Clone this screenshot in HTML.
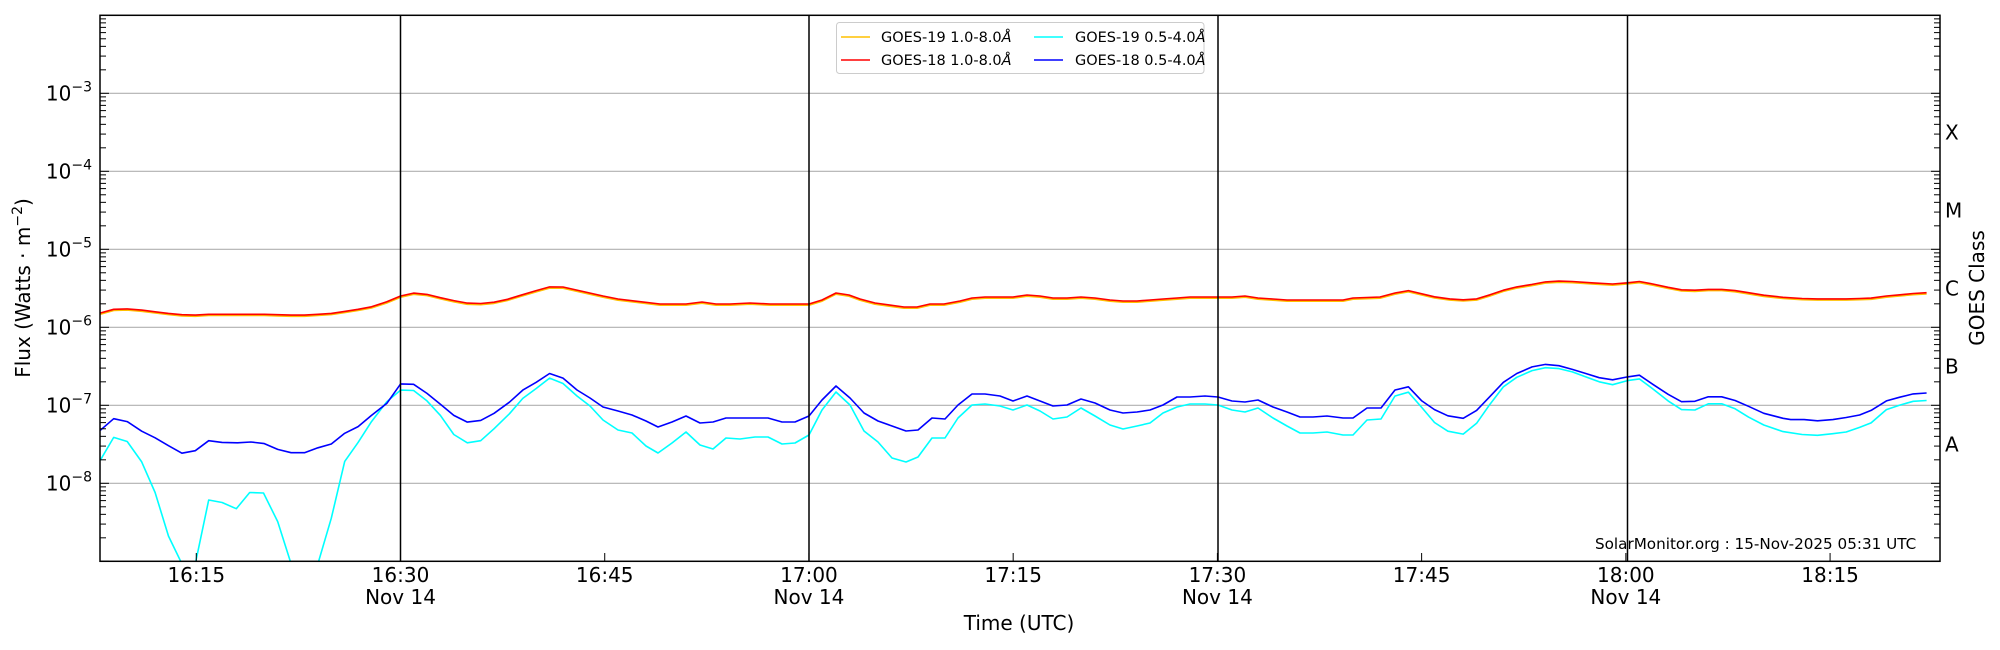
<!DOCTYPE html>
<html><head><meta charset="utf-8"><style>
html,body{margin:0;padding:0;background:#fff;}
svg{display:block;font-family:"DejaVu Sans","Liberation Sans",sans-serif;}
</style></head><body>
<svg id="s" width="2000" height="650" viewBox="0 0 2000 650" xmlns="http://www.w3.org/2000/svg">
<defs><clipPath id="c"><rect x="100" y="15" width="1840" height="546"/></clipPath></defs>
<g id="grid"></g>
<g id="data" clip-path="url(#c)" fill="none" stroke-width="1.6" stroke-linejoin="round"></g>
<g id="vl"></g>
<rect x="100" y="15.3" width="1840" height="546" fill="none" stroke="#000" stroke-width="1.5"/>
<g id="ticks" stroke="#000" stroke-width="1"></g>
<g id="lab" font-size="20" fill="#000"></g>
<text x="1019" y="630" font-size="20" text-anchor="middle">Time (UTC)</text>
<text transform="translate(30,288) rotate(-90)" font-size="20" text-anchor="middle">Flux (Watts · m<tspan baseline-shift="super" font-size="14">−2</tspan>)</text>
<text transform="translate(1984,288) rotate(-90)" font-size="20" text-anchor="middle">GOES Class</text>
<text x="1595" y="549" font-size="15.2">SolarMonitor.org : 15-Nov-2025 05:31 UTC</text>
<g>
<rect x="836.5" y="22.5" width="367.5" height="51" rx="3" fill="#fff" fill-opacity="0.8" stroke="#ccc"/>
<line x1="841" y1="37" x2="870" y2="37" stroke="#ffc000" stroke-width="1.5"/>
<line x1="841" y1="60" x2="870" y2="60" stroke="#ff0000" stroke-width="1.5"/>
<line x1="1034" y1="37" x2="1063" y2="37" stroke="#00ffff" stroke-width="1.5"/>
<line x1="1034" y1="60" x2="1063" y2="60" stroke="#0000ff" stroke-width="1.5"/>
<text x="881" y="42" font-size="14.5">GOES-19 1.0-8.0<tspan font-style="italic">Å</tspan></text>
<text x="881" y="65" font-size="14.5">GOES-18 1.0-8.0<tspan font-style="italic">Å</tspan></text>
<text x="1075" y="42" font-size="14.5">GOES-19 0.5-4.0<tspan font-style="italic">Å</tspan></text>
<text x="1075" y="65" font-size="14.5">GOES-18 0.5-4.0<tspan font-style="italic">Å</tspan></text>
</g>
</svg>
<script>
var NS="http://www.w3.org/2000/svg";
function el(p,t,a,txt){var e=document.createElementNS(NS,t);for(var k in a)e.setAttribute(k,a[k]);if(txt!==undefined)e.textContent=txt;document.getElementById(p).appendChild(e);return e;}
var top0=15.3,dec=78;
function yv(v){return top0+(-2-v)*dec;}
for(var d=-3;d>=-8;d--){var y=yv(d);el("grid","line",{x1:100,x2:1940,y1:y,y2:y,stroke:"#b0b0b0","stroke-width":1.2});}
[400.5,809,1218,1627.5].forEach(function(x){el("vl","line",{x1:x,x2:x,y1:15,y2:561,stroke:"#000","stroke-width":1.5});});
for(var d=-9;d<-2;d++){for(var m=1;m<10;m++){var y=yv(d+Math.log10(m));if(y<15.5)continue;var L=m==1?9:6;
el("ticks","line",{x1:100,x2:100+L,y1:y,y2:y});el("ticks","line",{x1:1940,x2:1940-L,y1:y,y2:y});}}
for(var d=-3;d>=-8;d--){var t=el("lab","text",{x:92,y:yv(d)+7,"text-anchor":"end"});t.innerHTML='10<tspan dy="-9" font-size="14">−'+(-d)+'</tspan>';}
["X","M","C","B","A"].forEach(function(c,i){el("lab","text",{x:1945,y:yv(-3.5-i)+7},c);});
var x0=400.5,pm=13.615;
[-15,0,15,30,45,60,75,90,105].forEach(function(m){var x=x0+m*pm;el("ticks","line",{x1:x,x2:x,y1:561,y2:553});
var h=16*60+30+m,s=Math.floor(h/60)+":"+("0"+h%60).slice(-2);el("lab","text",{x:x,y:582,"text-anchor":"middle"},s);
if(m%30==0)el("lab","text",{x:x,y:604,"text-anchor":"middle"},"Nov 14");});
function conv(a,ox,oy,sx,sy){var r=[];for(var i=0;i<a.length;i+=2)r.push([ox+a[i]/sx,oy+a[i+1]/sy]);return r;}
function z1(a){return conv(a,0,0,2.611,2.412);} function z2(a){return conv(a,1400,0,2.611,2.412);}
function z3(a){return conv(a,0,0,1,1);}
var red=[].concat(
z1([262,755,297,746,332,745,370,748,405,752,440,756,475,759,510,760,545,758,580,758,620,758,655,758,690,758,725,759,760,760,795,760,830,758,865,756,900,751,935,746,970,740,1010,728,1046,714,1080,707,1115,710,1150,718,1185,725,1220,731,1255,732,1290,729,1325,722,1360,712,1400,701,1435,692]),
z3([563,287,603,296,618,299,660,304,686,304,702,302,716,304,730,304,750,303,770,304,795,304,809,304,822,300,836,293,849,295,860,299,875,303,904,307,917,307,930,304,944,304,960,301,972,298,985,297,1000,297,1013,297,1027,295,1040,296,1053,298,1067,298,1081,297,1095,298,1110,300,1123,301,1137,301,1150,300,1163,299,1177,298,1190,297,1205,297,1218,297,1232,297,1245,296,1258,298,1273,299,1287,300,1300,300,1313,300,1327,300,1343,300,1353,298,1380,297,1395,293]),
z2([22,701,90,716,130,721,165,723,200,721,235,711,270,700,305,692,345,686,380,680,415,678,450,679,500,682,555,685,594,682,625,679,660,685,700,693,735,699,770,700,805,698,840,698,875,701,910,706,950,712,1000,717,1050,720,1090,721,1130,721,1165,721,1200,720,1230,719,1270,714,1305,711,1340,708,1375,706]));
var blue=[].concat(
z1([262,1038,297,1010,332,1017,370,1040,405,1056,440,1075,475,1093,510,1087,545,1063,580,1067,620,1068,655,1066,690,1070,725,1084,760,1092,795,1092,830,1080,865,1071,900,1045,935,1029,970,1002,1010,973,1046,926,1080,927,1115,949,1150,975,1185,1002,1220,1018,1255,1014,1290,997,1330,970,1365,941,1400,922,1435,901,1470,912]),
z3([577,390,590,398,603,407,618,411,632,415,646,421,658,427,672,422,686,416,700,423,713,422,726,418,740,418,755,418,768,418,782,422,795,422,809,416,822,400,836,386,850,398,864,413,878,421,892,426,906,431,918,430,932,418,945,419,958,405,972,394,985,394,1000,396,1013,401,1027,396,1040,401,1053,406,1067,405,1081,399,1095,403,1110,410,1123,413,1137,412,1150,410,1163,405,1177,397,1190,397,1205,396,1218,397,1232,401,1245,402,1258,400,1273,407,1287,412,1300,417,1313,417,1327,416,1343,418,1353,418,1367,408,1381,408,1395,390]),
z2([22,933,57,967,90,988,125,1003,165,1009,200,990,235,956,270,922,305,901,345,885,380,879,415,882,450,891,485,901,520,911,555,916,594,909,625,905,660,927,700,951,735,969,770,968,805,957,840,957,875,966,910,980,950,997,1000,1009,1020,1012,1055,1012,1090,1015,1130,1012,1165,1007,1200,1001,1230,990,1270,967,1305,958,1340,950,1375,948]));
var cyan=[].concat(
z1([262,1110,297,1055,332,1065,370,1114,405,1188,440,1293,475,1360,510,1360,545,1206,580,1212,617,1227,652,1188,688,1189,725,1258,760,1360,830,1360,865,1250,900,1113,935,1067,970,1017,1010,969,1046,941,1080,942,1115,967,1150,1002,1185,1048,1220,1068,1255,1063,1290,1034,1330,998,1365,961,1400,937,1435,912,1470,925]),
z3([577,396,590,406,603,420,618,430,632,433,646,446,658,453,672,443,686,432,700,445,713,449,726,438,740,439,755,437,768,437,782,444,795,443,809,435,822,410,836,392,850,405,864,431,878,442,892,458,906,462,918,457,932,438,945,438,958,418,972,405,985,404,1000,406,1013,410,1027,405,1040,411,1053,419,1067,417,1081,408,1095,416,1110,425,1123,429,1137,426,1150,423,1163,413,1177,407,1190,404,1205,404,1218,405,1232,410,1245,412,1258,408,1273,418,1287,426,1300,433,1313,433,1327,432,1343,435,1353,435,1367,420,1381,419,1395,396]),
z2([22,946,57,983,90,1019,125,1040,165,1047,200,1021,235,975,270,933,305,910,345,894,380,887,415,889,450,897,485,909,520,921,555,928,594,918,625,914,660,938,700,967,735,988,770,989,805,974,840,974,875,986,910,1006,950,1025,1000,1041,1050,1048,1090,1050,1130,1046,1165,1042,1200,1031,1230,1020,1270,988,1305,977,1340,968,1375,966]));
function pl(a,col,dy){el("data","polyline",{points:a.map(function(p){return p[0].toFixed(1)+","+(p[1]+(dy||0)).toFixed(1);}).join(" "),stroke:col});}
pl(red,"#ffc000",1.2);pl(red,"#ff0000",0);pl(cyan,"#00ffff",0);pl(blue,"#0000ff",0);
</script>
</body></html>
